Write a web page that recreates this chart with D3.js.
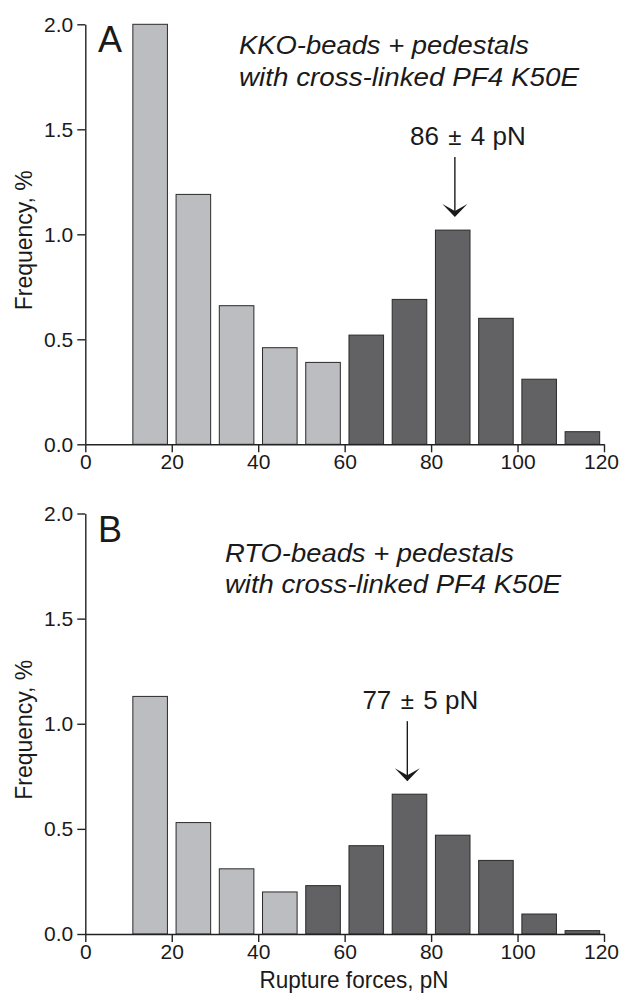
<!DOCTYPE html>
<html>
<head>
<meta charset="utf-8">
<script src="https://cdn.jsdelivr.net/npm/d3@7/dist/d3.min.js"></script>
<style>
  html, body { margin: 0; padding: 0; background: #fff; }
  svg { display: block; font-family: "Liberation Sans", Arial, Helvetica, sans-serif; }
</style>
</head>
<body>
<svg id="chart" width="620" height="998"></svg>
<script>
// ---- data ----
const binStarts = [10, 20, 30, 40, 50, 60, 70, 80, 90, 100, 110];
const binWidth = 10;
const freqA = [2.00, 1.19, 0.66, 0.46, 0.39, 0.52, 0.69, 1.02, 0.60, 0.31, 0.06];
const freqB = [1.13, 0.53, 0.31, 0.20, 0.23, 0.42, 0.665, 0.47, 0.35, 0.095, 0.016];
const darkFromA = 60;   // bins starting here and above are dark
const darkFromB = 50;
const xTicks = [0, 20, 40, 60, 80, 100, 120];
const yTicks = [0.0, 0.5, 1.0, 1.5, 2.0];
const panelLetters = ["A", "B"];
const titleA = ["KKO-beads + pedestals", "with cross-linked PF4 K50E"];
const titleB = ["RTO-beads + pedestals", "with cross-linked PF4 K50E"];
const peakA = { mean: "86", err: "4 pN", at: 85.5, freq: 1.02 };
const peakB = { mean: "77", err: "5 pN", at: 74.5, freq: 0.665 };
const xLabel = "Rupture forces, pN";
const yLabel = "Frequency, %";

// ---- styling ----
const lightFill = "#bcbdc1";
const darkFill = "#626264";
const inkColor = "#222";

const svg = d3.select("#chart");

const x = d3.scaleLinear().domain([0, 120]).range([85.3, 604]);

function drawPanel(opts) {
  const { top, bottom, freq, darkFrom, letter, title, peak, showXLabel } = opts;
  const y = d3.scaleLinear().domain([0, 2]).range([bottom, top]);
  const g = svg.append("g");

  // bars
  g.selectAll("rect.bar")
    .data(binStarts.map((b, i) => ({ b, v: freq[i] })))
    .join("rect")
    .attr("class", "bar")
    .attr("x", d => x(d.b + 1))
    .attr("width", d => x(d.b + binWidth - 1) - x(d.b + 1))
    .attr("y", d => y(Math.min(d.v, 2)))
    .attr("height", d => y(0) - y(Math.min(d.v, 2)))
    .attr("fill", d => d.b >= darkFrom ? darkFill : lightFill)
    .attr("stroke", "#2a2a2a")
    .attr("stroke-width", 1);

  // y axis
  const yAxis = d3.axisLeft(y).tickValues(yTicks).tickFormat(d3.format(".1f"))
    .tickSize(8).tickPadding(4).tickSizeOuter(0);
  const ga = g.append("g").attr("transform", `translate(${x(0)},0)`).call(yAxis);
  ga.select(".domain").attr("stroke", inkColor).attr("stroke-width", 1.4);
  ga.selectAll(".tick line").attr("stroke", inkColor).attr("stroke-width", 1.4);
  ga.selectAll(".tick text").attr("font-size", 21).attr("fill", "#1a1a1a")
    .attr("font-family", "\"Liberation Sans\", Arial, sans-serif");

  // x axis
  const xAxis = d3.axisBottom(x).tickValues(xTicks).tickFormat(d3.format("d"))
    .tickSize(8).tickPadding(2).tickSizeOuter(0);
  const gx = g.append("g").attr("transform", `translate(0,${y(0)})`).call(xAxis);
  gx.select(".domain").attr("stroke", inkColor).attr("stroke-width", 1.4);
  gx.selectAll(".tick line").attr("stroke", inkColor).attr("stroke-width", 1.4);
  gx.selectAll(".tick text").attr("font-size", 21).attr("fill", "#1a1a1a")
    .attr("font-family", "\"Liberation Sans\", Arial, sans-serif")
    .attr("dx", d => d === xTicks[xTicks.length - 1] ? -3 : 0);

  // y label
  const cy = (top + bottom) / 2 + 6;
  g.append("text")
    .attr("transform", `translate(32,${cy}) rotate(-90)`)
    .attr("text-anchor", "middle")
    .attr("font-size", 24)
    .attr("fill", "#1a1a1a")
    .attr("textLength", 140)
    .attr("lengthAdjust", "spacingAndGlyphs")
    .text(yLabel);

  // panel letter
  g.append("text")
    .attr("x", 98).attr("y", top + 28)
    .attr("font-size", 36)
    .attr("fill", "#1a1a1a")
    .text(letter);

  // italic title
  const titleX = letter === "A" ? 239 : 225;
  const lens = letter === "A" ? [290, 340] : [289, 336];
  title.forEach((t, i) => {
    g.append("text")
      .attr("x", titleX).attr("y", top + 30 + i * 31.5 + (letter === "A" ? 0 : 18))
      .attr("font-size", 25)
      .attr("font-style", "italic")
      .attr("fill", "#1a1a1a")
      .attr("textLength", lens[i])
      .attr("lengthAdjust", "spacingAndGlyphs")
      .text(t);
  });

  // peak annotation
  const ax = x(peak.at);
  const tipY = y(peak.freq) - 13;
  const headH = 13, headW = 25, lineLen = 47;
  const textBase = tipY - headH - lineLen - 12;
  g.append("text").attr("x", ax - 16).attr("y", textBase)
    .attr("text-anchor", "end").attr("font-size", 26).attr("fill", "#1a1a1a").text(peak.mean);
  g.append("text").attr("x", ax).attr("y", textBase)
    .attr("text-anchor", "middle").attr("font-size", 24).attr("fill", "#1a1a1a").text("±");
  g.append("text").attr("x", ax + 16).attr("y", textBase)
    .attr("text-anchor", "start").attr("font-size", 26).attr("fill", "#1a1a1a").text(peak.err);
  g.append("line")
    .attr("x1", ax).attr("x2", ax)
    .attr("y1", tipY - headH - lineLen).attr("y2", tipY - 4)
    .attr("stroke", "#1a1a1a").attr("stroke-width", 1.4);
  g.append("path")
    .attr("d", `M${ax - headW / 2},${tipY - headH} L${ax},${tipY - 6} L${ax + headW / 2},${tipY - headH} L${ax},${tipY} Z`)
    .attr("fill", "#1a1a1a");

  if (showXLabel) {
    g.append("text")
      .attr("x", 354).attr("y", bottom + 54)
      .attr("text-anchor", "middle")
      .attr("font-size", 24)
      .attr("fill", "#1a1a1a")
      .attr("textLength", 189)
      .attr("lengthAdjust", "spacingAndGlyphs")
      .text(xLabel);
  }
}

drawPanel({ top: 24.3, bottom: 444.3, freq: freqA, darkFrom: darkFromA, letter: panelLetters[0], title: titleA, peak: peakA, showXLabel: false });
drawPanel({ top: 513.5, bottom: 934, freq: freqB, darkFrom: darkFromB, letter: panelLetters[1], title: titleB, peak: peakB, showXLabel: true });
</script>
</body>
</html>
